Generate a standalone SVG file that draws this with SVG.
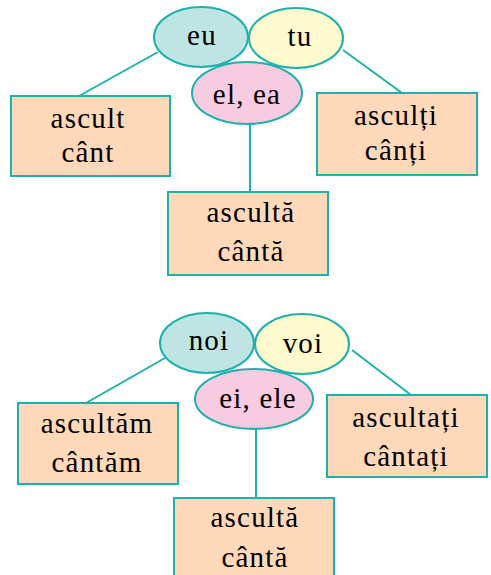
<svg xmlns="http://www.w3.org/2000/svg" width="491" height="575" viewBox="0 0 491 575">
<style>
.t{font-family:'Liberation Serif','DejaVu Serif',serif;font-size:29px;fill:#000;text-anchor:middle;letter-spacing:1.2px}
.box{fill:#FDD9B9;stroke:#1DB0AC;stroke-width:2}
.el{stroke:#1DB0AC;stroke-width:2}
.c{stroke:#1DB0AC;stroke-width:2;fill:none}
.teal{fill:#BEE5E3}
.yel{fill:#FFFACD}
.pink{fill:#F7CBE0}
</style>
<rect width="491" height="575" fill="#fff"/>
<g id="connectors">
<line class="c" x1="158" y1="52" x2="79" y2="96"/>
<line class="c" x1="343" y1="50" x2="402" y2="93"/>
<line class="c" x1="250" y1="124" x2="250" y2="192"/>
<line class="c" x1="165" y1="358" x2="86" y2="403"/>
<line class="c" x1="352" y1="350" x2="411" y2="395"/>
<line class="c" x1="256" y1="429" x2="256" y2="498"/>
</g>
<g id="n-ascult"><rect class="box" x="11" y="96" width="159" height="80"/><text class="t" x="88" y="128">ascult</text><text class="t" x="88" y="162">cânt</text></g>
<g id="n-asculti"><rect class="box" x="317" y="93" width="160" height="82"/><text class="t" x="396" y="125">asculți</text><text class="t" x="396" y="160">cânți</text></g>
<g id="n-asculta1"><rect class="box" x="168" y="192" width="160" height="83"/><text class="t" x="251" y="222">ascultă</text><text class="t" x="251" y="261">cântă</text></g>
<g id="n-eu"><ellipse class="el teal" cx="201" cy="37" rx="47" ry="30"/><text class="t" x="202" y="45">eu</text></g>
<g id="n-tu"><ellipse class="el yel" cx="296" cy="38" rx="47" ry="30"/><text class="t" x="300" y="46">tu</text></g>
<g id="n-elea"><ellipse class="el pink" cx="247" cy="93" rx="55" ry="31"/><text class="t" x="247" y="104">el, ea</text></g>
<g id="n-ascultam"><rect class="box" x="18" y="403" width="160" height="81"/><text class="t" x="97" y="433">ascultăm</text><text class="t" x="97" y="472">cântăm</text></g>
<g id="n-ascultati"><rect class="box" x="327" y="395" width="160" height="82"/><text class="t" x="406" y="427">ascultați</text><text class="t" x="406" y="466">cântați</text></g>
<g id="n-asculta2"><rect class="box" x="174" y="498" width="160" height="90"/><text class="t" x="255" y="527">ascultă</text><text class="t" x="255" y="567">cântă</text></g>
<g id="n-noi"><ellipse class="el teal" cx="207" cy="343" rx="47" ry="30"/><text class="t" x="209" y="350">noi</text></g>
<g id="n-voi"><ellipse class="el yel" cx="302" cy="344" rx="47" ry="30"/><text class="t" x="303" y="353">voi</text></g>
<g id="n-eiele"><ellipse class="el pink" cx="254" cy="399" rx="59" ry="30"/><text class="t" x="258" y="408">ei, ele</text></g>
</svg>
